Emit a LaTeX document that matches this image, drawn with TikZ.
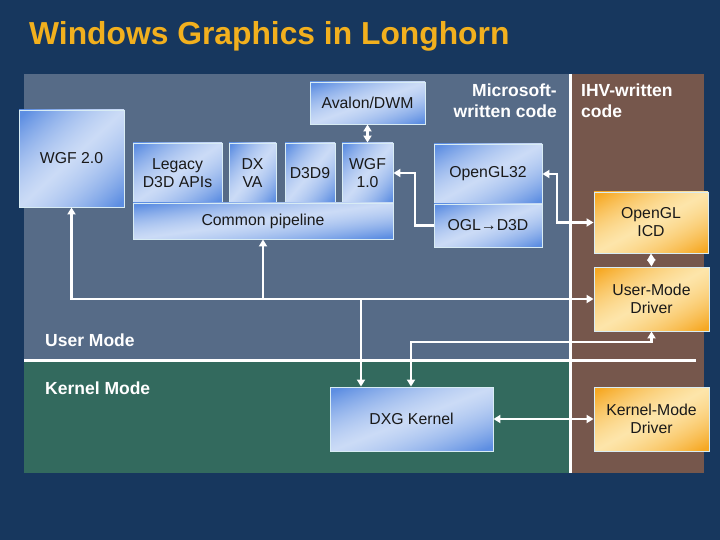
\documentclass[tikz,border=0pt]{standalone}
\usepackage{fontspec}
\setmainfont{Liberation Sans}
\usetikzlibrary{arrows.meta}
\definecolor{bg}{HTML}{17375E}
\definecolor{usr}{HTML}{566B87}
\definecolor{krn}{HTML}{336A5E}
\definecolor{ihv}{HTML}{76574C}
\definecolor{ttl}{HTML}{F2B01E}
\definecolor{bline}{HTML}{D8ECF4}
\pgfdeclarefunctionalshading{bluefs}{\pgfpoint{0bp}{0bp}}{\pgfpoint{100bp}{100bp}}{}{
  sub abs 46 div dup 1 gt {pop 1} if dup dup mul add 2 div
  dup -0.431 mul 0.796 add
  exch dup -0.302 mul 0.859 add
  exch -0.079 mul 0.965 add
}
\pgfdeclarefunctionalshading{orfs}{\pgfpoint{0bp}{0bp}}{\pgfpoint{100bp}{100bp}}{}{
  sub abs 46 div dup 1 gt {pop 1} if dup dup mul add 2 div
  dup -0.027 mul 0.992 add
  exch dup -0.239 mul 0.898 add
  exch -0.530 mul 0.667 add
}
\tikzset{
  bbox/.style={draw=bline, line width=0.9pt, shading=bluefs, text=black!90, align=center, inner sep=0pt, font=\fontsize{15.8}{18}\selectfont},
  obox/.style={bbox, shading=orfs},
  conn/.style={draw=white, line width=2.2pt},
  tip/.tip={Triangle[length=7pt,width=8pt]},
  lbl/.style={text=white, inner sep=0pt, font=\bfseries\fontsize{17.5}{21}\selectfont},
}
\begin{document}
\begin{tikzpicture}[x=1pt,y=-1pt]
\useasboundingbox (0,0) rectangle (720,540);
\fill[bg] (0,0) rectangle (720,540);
% regions
\fill[usr] (24,74) rectangle (570,360);
\fill[krn] (24,360) rectangle (570,473);
\fill[ihv] (570,74) rectangle (704,473);
\draw[white, line width=3pt] (24,360) -- (696,360);
\draw[white, line width=3pt] (570.5,74) -- (570.5,473);
% title
\node[anchor=base west, inner sep=0pt, text=ttl, font=\bfseries\fontsize{31.8}{36}\selectfont] (title) at (29,45) {Windows Graphics in Longhorn};
% labels
\node[lbl, align=right, anchor=north east] (ms) at (557,84) {Microsoft-\\written code};
\node[lbl, align=left, anchor=north west] (ihvl) at (581,84) {IHV-written\\code};
\node[lbl, anchor=base west] (um) at (45,346) {User Mode};
\node[lbl, anchor=base west] (km) at (45,394) {Kernel Mode};
% boxes
\node[bbox, minimum width=105pt, minimum height=97pt] (wgf2) at (71.5,158.5) {};
\node[text=black!90, inner sep=0pt, font=\fontsize{15.8}{18}\selectfont] (wgf2t) at (71.5,158) {WGF 2.0};
\node[bbox, minimum width=89pt, minimum height=60pt] (legacy) at (177.5,173) {Legacy\\D3D APIs};
\node[bbox, minimum width=47pt, minimum height=60pt] (dxva) at (252.5,173) {DX\\VA};
\node[bbox, minimum width=50pt, minimum height=60pt] (d3d9) at (310,173) {D3D9};
\node[bbox, minimum width=51pt, minimum height=60pt] (wgf1) at (367.5,173) {WGF\\1.0};
\node[bbox, minimum width=260pt, minimum height=36pt] (cp) at (263,221) {Common pipeline};
\node[bbox, minimum width=115pt, minimum height=42pt] (aval) at (367.5,103) {Avalon/DWM};
\node[bbox, minimum width=108pt, minimum height=60pt] (gl32) at (488,174) {OpenGL32};
\node[bbox, minimum width=108pt, minimum height=43pt] (ogl) at (488,225.5) {OGL→D3D};
\node[obox, minimum width=114pt, minimum height=61pt] (icd) at (651,222.5) {OpenGL\\ICD};
\node[obox, minimum width=115pt, minimum height=64pt] (umd) at (651.5,299) {User-Mode\\Driver};
\node[obox, minimum width=115pt, minimum height=64pt] (kmd) at (651.5,419) {Kernel-Mode\\Driver};
\node[bbox, minimum width=163pt, minimum height=64pt] (dxg) at (411.5,419) {DXG Kernel};
% connectors
\coordinate (c1) at (415,225.5);
\coordinate (c2) at (557,174);
\coordinate (c3) at (71.5,299);
\coordinate (c4) at (651.5,342);
\coordinate (c5) at (411,342);
\coordinate (c6) at (361,299);
\draw[conn, tip-tip] (aval.south) -- (wgf1.north);
\draw[conn, -tip] (ogl.west) -- (c1) |- (wgf1.east);
\draw[conn, tip-tip] (gl32.east) -- (c2) |- (icd.west);
\draw[conn, tip-tip] (icd.south) -- (umd.north);
\draw[conn, tip-tip] (wgf2.south) -- (c3) -- (umd.west);
\draw[conn, -tip] (cp.south |- c3) -- (cp.south);
\draw[conn, -tip] (c6) -- (c6 |- dxg.north);
\draw[conn, tip-tip] (umd.south) -- (c4) -- (c5) -- (c5 |- dxg.north);
\draw[conn, tip-tip] (dxg.east) -- (kmd.west);
\end{tikzpicture}
\end{document}
